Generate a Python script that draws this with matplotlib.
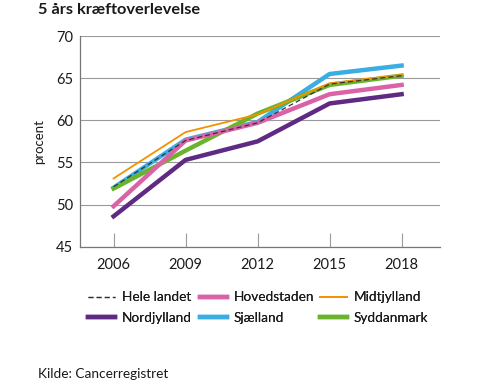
import matplotlib
matplotlib.use("Agg")
import matplotlib.pyplot as plt

plt.rcParams['font.family'] = ['Lato', 'DejaVu Sans']

years = [2006, 2009, 2012, 2015, 2018]
hele_landet = [52.1, 57.6, 59.7, 64.3, 65.3]
hovedstaden = [49.8, 57.6, 59.7, 63.1, 64.2]
midtjylland = [53.1, 58.6, 60.7, 64.4, 65.4]
nordjylland = [48.6, 55.3, 57.5, 62.0, 63.1]
sjaelland = [52.0, 57.7, 59.8, 65.5, 66.5]
syddanmark = [51.9, 56.4, 60.8, 64.2, 65.3]

fig = plt.figure(figsize=(5, 3.8), dpi=100)
ax = fig.add_axes([0.16, 0.351, 0.72, 0.554])

# tegnerækkefølge: tykke linjer først, tynde ovenpå
l_sj, = ax.plot(years, sjaelland, color='#3aaee3', lw=3.2, zorder=3)
l_sy, = ax.plot(years, syddanmark, color='#6ab42d', lw=3.2, zorder=4)
l_no, = ax.plot(years, nordjylland, color='#5e2a84', lw=3.2, zorder=4)
l_ho, = ax.plot(years, hovedstaden, color='#d963a6', lw=3.2, zorder=5)
l_mi, = ax.plot(years, midtjylland, color='#f39200', lw=1.3, zorder=6)
l_he, = ax.plot(years, hele_landet, color='#333333', lw=0.9, ls=(0, (4, 2.5)), zorder=7)

ax.set_xlim(2004.6, 2019.6)
ax.set_ylim(45, 70)
ax.set_xticks(years)
ax.set_yticks([45, 50, 55, 60, 65, 70])
ax.yaxis.grid(True, color='#9a9a9a', lw=0.8)
ax.set_axisbelow(True)

for s in ['top', 'right']:
    ax.spines[s].set_visible(False)
for s in ['left', 'bottom']:
    ax.spines[s].set_color('#777777')
    ax.spines[s].set_linewidth(0.9)

ax.tick_params(axis='x', direction='in', length=10, color='#9a9a9a', labelsize=10.5, pad=8)
ax.tick_params(axis='y', length=0, labelsize=10.5, pad=5)
for lbl in ax.get_xticklabels() + ax.get_yticklabels():
    lbl.set_color('#1a1a1a')

ax.set_ylabel('procent', fontsize=9.5, color='#1a1a1a')
ax.yaxis.set_label_coords(-0.097, 0.5)

# tre legender, en pr. kolonne
columns = [
    (0.176, [l_he, l_no], ['Hele landet', 'Nordjylland']),
    (0.40, [l_ho, l_sj], ['Hovedstaden', 'Sjælland']),
    (0.64, [l_mi, l_sy], ['Midtjylland', 'Syddanmark']),
]
for x0, hs, ls in columns:
    leg = fig.legend(hs, ls, loc='upper left', bbox_to_anchor=(x0, 0.233),
                     frameon=False, borderpad=0, borderaxespad=0,
                     prop={'size': 9.8},
                     handlelength=2.0, handletextpad=0.5, labelspacing=0.6)
    for t in leg.get_texts():
        t.set_color('#1a1a1a')
    fig.add_artist(leg)

fig.text(0.076, 0.962, '5 års kræftoverlevelse', fontsize=11.8, fontweight='bold', color='#1a1a1a')
fig.text(0.076, 0.005, 'Kilde: Cancerregistret', fontsize=9.8, color='#1a1a1a')

fig.savefig('out.png', dpi=100)
